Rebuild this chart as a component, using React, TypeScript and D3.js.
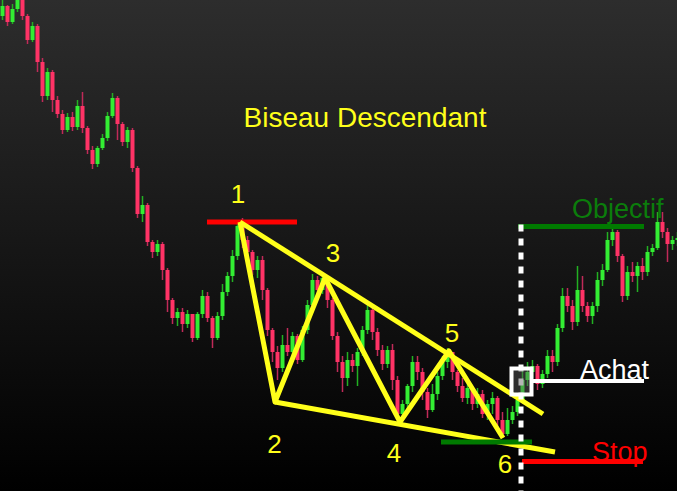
import React, { useEffect, useRef } from 'react';
import * as d3 from 'd3';

// price path (one candle per index), open = previous close
const startOpen = 484;
const closes = [
  494, 478, 491, 502, 484, 460, 474, 438, 404, 428,
  400, 386, 370, 383, 373, 394, 372, 350, 336, 352,
  362, 384, 402, 376, 358, 370, 332, 286, 295, 258,
  248, 256, 230, 200, 182, 188, 176, 186, 162, 186,
  204, 182, 162, 184, 208, 224, 244, 274, 260, 248,
  230, 240, 210, 170, 148, 132, 155, 148, 164, 140,
  170, 195, 220, 210, 222, 200, 164, 138, 122, 140,
  134, 148, 170, 190, 168, 150, 136, 150, 120, 86,
  96, 114, 138, 128, 108, 90, 106, 124, 138, 148,
  128, 114, 102, 112, 96, 106, 86, 96, 102, 80,
  66, 80, 88, 100, 120, 128, 134, 116, 126, 144,
  138, 172, 204, 194, 178, 210, 194, 184, 194, 220,
  230, 260, 268, 244, 204, 228, 224, 234, 228, 248,
  252, 278, 268, 256, 260, 262,
];
const highs = [
  504, 495, 496, 510, 508, 486, 478, 476, 442, 432,
  430, 404, 390, 387, 388, 400, 408, 374, 354, 354,
  366, 388, 407, 404, 378, 373, 372, 334, 304, 297,
  260, 260, 258, 232, 202, 192, 192, 190, 186, 188,
  210, 208, 184, 188, 216, 228, 250, 280, 282, 264,
  250, 244, 244, 212, 172, 154, 165, 172, 168, 166,
  174, 200, 226, 224, 226, 224, 202, 168, 144, 148,
  146, 152, 174, 195, 192, 172, 155, 154, 156, 124,
  100, 116, 144, 144, 132, 112, 116, 128, 144, 152,
  148, 130, 122, 116, 114, 112, 110, 100, 108, 104,
  88, 92, 94, 104, 134, 138, 140, 136, 130, 150,
  150, 176, 212, 212, 200, 234, 224, 198, 198, 228,
  236, 268, 272, 270, 246, 234, 238, 238, 242, 254,
  256, 288, 288, 272, 264, 268,
];
const lows = [
  480, 474, 476, 488, 480, 456, 458, 428, 398, 400,
  388, 382, 366, 368, 369, 370, 367, 346, 331, 333,
  350, 359, 382, 360, 354, 352, 328, 282, 278, 254,
  242, 244, 220, 188, 176, 174, 168, 172, 158, 160,
  182, 178, 152, 160, 180, 204, 218, 240, 252, 244,
  225, 222, 200, 164, 138, 120, 128, 144, 144, 136,
  138, 166, 190, 204, 206, 192, 160, 128, 108, 114,
  128, 114, 144, 166, 160, 144, 130, 132, 110, 80,
  82, 88, 108, 120, 100, 82, 88, 100, 120, 132,
  120, 108, 98, 96, 90, 92, 82, 80, 86, 72,
  62, 64, 76, 84, 98, 114, 122, 110, 112, 122,
  128, 134, 168, 188, 170, 174, 188, 178, 176, 188,
  214, 228, 254, 238, 198, 200, 218, 208, 220, 224,
  244, 250, 262, 238, 250, 254,
];

// wedge pivots 1..6 as [index, price]
const pivots: [number, number][] = [
  [47.5, 278], [54.5, 98], [64.5, 222], [79.5, 78], [89.3, 149], [100.1, 62],
];
const pivotLabels = ['1', '2', '3', '4', '5', '6'];
const pivotLabelPos: [number, number][] = [
  [47.1, 297], [54.4, 47], [66.1, 238], [78.3, 38], [89.9, 158], [100.5, 27],
];
const upperEnd: [number, number] = [108.1, 86];
const lowerEnd: [number, number] = [110.5, 48];

// horizontal levels: [fromIndex, toIndex, price]
const highLevel = [40.9, 58.9, 278];
const lowLevel = [87.7, 105.9, 58];
const targetLevel = [103.1, 128.3, 273.5];
const entryLevel = [106.1, 128.3, 119];
const stopLevel = [103.9, 128.1, 38.5];
const breakoutIndex = 103.7;
const entryBox: [number, number] = [103.8, 118.5];

const tradeLabels = [
  { text: 'Objectif', at: [113.9, 282], color: '#0b7d0b' },
  { text: 'Achat', at: [115.5, 121], color: '#ffffff' },
  { text: 'Stop', at: [117.9, 39], color: '#ff0000' },
];
const title = 'Biseau Descendant';

const W = 677;
const H = 491;

const App: React.FC = () => {
  const svgRef = useRef<SVGSVGElement>(null);

  useEffect(() => {
    if (!svgRef.current) return;
    const svg = d3.select(svgRef.current);
    svg.selectAll('*').remove();

    const x = d3.scaleLinear().domain([0, closes.length - 1]).range([2.5, 677.5]);
    const y = d3.scaleLinear().domain([9, 500]).range([H, 0]);
    const step = x(1) - x(0);

    const defs = svg.append('defs');
    const grad = defs.append('linearGradient')
      .attr('id', 'bg').attr('x1', 0).attr('y1', 0).attr('x2', 0).attr('y2', 1);
    grad.append('stop').attr('offset', '0%').attr('stop-color', '#2d2d2d');
    grad.append('stop').attr('offset', '100%').attr('stop-color', '#000000');

    svg.append('rect').attr('width', W).attr('height', H).attr('fill', 'url(#bg)');

    const candles = closes.map((c, i) => ({
      i,
      open: i === 0 ? startOpen : closes[i - 1],
      close: c,
      high: highs[i],
      low: lows[i],
    }));
    const up = '#33ee33';
    const down = '#ff3366';

    const g = svg.append('g');
    g.selectAll('line.wick')
      .data(candles)
      .enter()
      .append('line')
      .attr('x1', d => x(d.i))
      .attr('x2', d => x(d.i))
      .attr('y1', d => y(d.high))
      .attr('y2', d => y(d.low))
      .attr('stroke', d => (d.close >= d.open ? '#22b022' : '#c02a58'))
      .attr('stroke-width', 1.5);

    g.selectAll('rect.body')
      .data(candles)
      .enter()
      .append('rect')
      .attr('x', d => x(d.i) - step * 0.4)
      .attr('width', step * 0.8)
      .attr('y', d => y(Math.max(d.open, d.close)))
      .attr('height', d => Math.max(1.5, Math.abs(y(d.open) - y(d.close))))
      .attr('fill', d => (d.close >= d.open ? up : down));

    const hline = (lvl: number[], color: string, w: number) =>
      svg.append('line')
        .attr('x1', x(lvl[0])).attr('x2', x(lvl[1]))
        .attr('y1', y(lvl[2])).attr('y2', y(lvl[2]))
        .attr('stroke', color).attr('stroke-width', w);

    hline(highLevel, '#ff0000', 5);

    const line = d3.line<[number, number]>()
      .x(d => x(d[0]))
      .y(d => y(d[1]));

    const yellow = '#ffff1a';
    [[pivots[0], upperEnd], [pivots[1], lowerEnd], pivots].forEach(pts => {
      svg.append('path')
        .attr('d', line(pts as [number, number][]))
        .attr('fill', 'none')
        .attr('stroke', yellow)
        .attr('stroke-width', 5)
        .attr('stroke-linejoin', 'round');
    });

    hline(lowLevel, '#007a00', 5);
    hline(targetLevel, '#007a00', 5);
    hline(entryLevel, '#ffffff', 4);
    hline(stopLevel, '#ff0000', 5);

    svg.append('line')
      .attr('x1', x(breakoutIndex)).attr('x2', x(breakoutIndex))
      .attr('y1', y(targetLevel[2]) - 2).attr('y2', H)
      .attr('stroke', '#ffffff')
      .attr('stroke-width', 5)
      .attr('stroke-dasharray', '7 7');

    svg.append('rect')
      .attr('x', x(entryBox[0]) - 10)
      .attr('y', y(entryBox[1]) - 13)
      .attr('width', 20)
      .attr('height', 26)
      .attr('fill', 'rgba(90,90,90,0.45)')
      .attr('stroke', '#ffffff')
      .attr('stroke-width', 4);

    const font = '"Liberation Sans", Arial, sans-serif';

    svg.append('text')
      .attr('x', 365).attr('y', 127)
      .attr('text-anchor', 'middle')
      .attr('font-family', font)
      .attr('font-size', 28)
      .attr('fill', yellow)
      .text(title);

    svg.selectAll('text.pivot')
      .data(pivotLabelPos)
      .enter()
      .append('text')
      .attr('x', d => x(d[0]))
      .attr('y', d => y(d[1]))
      .attr('text-anchor', 'middle')
      .attr('font-family', font)
      .attr('font-size', 26)
      .attr('fill', yellow)
      .text((_, i) => pivotLabels[i]);

    tradeLabels.forEach(l => {
      svg.append('text')
        .attr('x', x(l.at[0]))
        .attr('y', y(l.at[1]))
        .attr('font-family', font)
        .attr('font-size', 27)
        .attr('fill', l.color)
        .text(l.text);
    });
  }, []);

  return (
    <svg
      ref={svgRef}
      width={W}
      height={H}
      style={{ position: 'absolute', left: 0, top: 0, display: 'block' }}
    />
  );
};

export default App;
